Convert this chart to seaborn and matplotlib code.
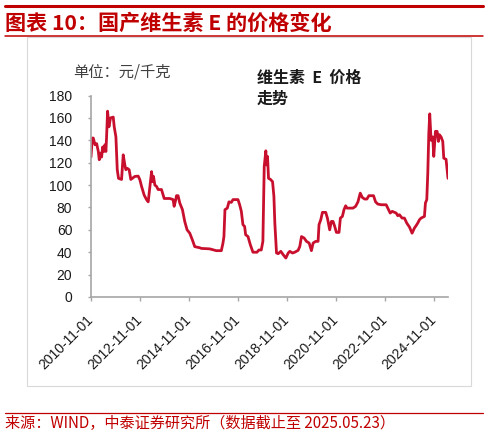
import matplotlib
matplotlib.use("Agg")
import matplotlib.pyplot as plt
import matplotlib.dates as mdates
from matplotlib.patches import Rectangle
from matplotlib.lines import Line2D
import pandas as pd
import seaborn as sns

# ---- data: domestic vitamin E price (yuan/kg) ----
dates = [
    "2010-11-01", "2010-11-20", "2010-12-05", "2010-12-30", "2011-01-24", "2011-02-18",
    "2011-03-04", "2011-03-24", "2011-04-08", "2011-04-23", "2011-05-12", "2011-05-27",
    "2011-06-11", "2011-06-21", "2011-07-06", "2011-07-26", "2011-08-19", "2011-09-28",
    "2011-10-13", "2011-11-07", "2011-11-27", "2011-12-16", "2012-01-30", "2012-02-24",
    "2012-03-19", "2012-04-03", "2012-04-23", "2012-05-22", "2012-06-16", "2012-08-15",
    "2012-10-04", "2012-10-29", "2012-11-23", "2013-01-01", "2013-02-05", "2013-03-02",
    "2013-03-27", "2013-04-21", "2013-05-06", "2013-05-20", "2013-06-09", "2013-07-04",
    "2013-07-28", "2013-09-16", "2013-10-26", "2014-01-18", "2014-03-08", "2014-03-23",
    "2014-04-17", "2014-04-27", "2014-05-21", "2014-06-15", "2014-07-25", "2014-08-28",
    "2014-10-02", "2014-11-11", "2014-12-20", "2015-01-24", "2015-04-08", "2015-05-03",
    "2015-09-03", "2015-12-11", "2016-02-24", "2016-03-19", "2016-04-03", "2016-04-18",
    "2016-05-23", "2016-06-17", "2016-07-22", "2016-08-16", "2016-10-29", "2016-11-23",
    "2016-12-18", "2017-01-11", "2017-02-05", "2017-02-20", "2017-03-27", "2017-05-01",
    "2017-06-09", "2017-08-08", "2017-09-06", "2017-10-11", "2017-11-04", "2017-11-24",
    "2017-12-18", "2017-12-28", "2018-01-12", "2018-01-27", "2018-02-26", "2018-03-28",
    "2018-04-17", "2018-05-01", "2018-05-26", "2018-06-20", "2018-07-29", "2018-09-02",
    "2018-10-12", "2018-11-16", "2018-12-10", "2019-01-19", "2019-02-22", "2019-04-13",
    "2019-05-08", "2019-06-02", "2019-07-11", "2019-08-15", "2019-09-24", "2019-10-28",
    "2019-11-22", "2019-12-31", "2020-02-04", "2020-02-18", "2020-03-15", "2020-04-09",
    "2020-05-28", "2020-06-22", "2020-07-26", "2020-08-20", "2020-09-14", "2020-10-09",
    "2020-11-03", "2020-12-12", "2021-01-01", "2021-01-31", "2021-02-24", "2021-03-21",
    "2021-04-10", "2021-07-08", "2021-08-16", "2021-09-20", "2021-10-24", "2021-11-23",
    "2021-12-28", "2022-01-31", "2022-03-02", "2022-05-10", "2022-06-09", "2022-07-13",
    "2022-09-01", "2022-11-14", "2022-12-09", "2023-01-13", "2023-02-12", "2023-03-18",
    "2023-04-12", "2023-05-06", "2023-05-31", "2023-07-09", "2023-08-13", "2023-09-17",
    "2023-10-27", "2023-12-05", "2024-01-09", "2024-02-03", "2024-02-27", "2024-03-24",
    "2024-04-17", "2024-06-06", "2024-06-21", "2024-07-11", "2024-07-26", "2024-08-10",
    "2024-08-24", "2024-09-13", "2024-10-08", "2024-10-23", "2024-11-17", "2024-12-12",
    "2024-12-31", "2025-01-15", "2025-02-09", "2025-03-06", "2025-03-21", "2025-04-24",
    "2025-05-23",
]
prices = [
    125, 142, 142, 136, 137, 130,
    122.6, 128.5, 125, 134, 130, 136,
    130, 143, 166, 152, 160, 160.7,
    152, 143, 113.7, 106, 105, 127,
    118, 113.7, 115, 113.7, 105, 107.7,
    108, 104.7, 98.8, 91, 87, 85,
    98.8, 112, 103, 107.7, 100, 98.8,
    96, 96, 88, 88, 87, 81,
    87, 90.5, 90.5, 84, 78, 67.5,
    60, 57, 51, 45, 44, 43.4,
    43, 41.4, 41.4, 48, 54, 78,
    79.4, 85, 84.5, 87, 87, 82.4,
    76.5, 64.6, 63, 55.6, 54, 46.7,
    40, 40, 42, 42, 49.7, 116.6,
    130.6, 118, 125.6, 106, 105, 103,
    90, 66, 39.3, 38.7, 40.8, 37.8,
    34.8, 39.3, 40.8, 39.3, 40, 41.7,
    45.2, 54, 52.7, 49.7, 48.2, 41.4,
    48.2, 49.7, 49.7, 64.6, 69, 75.6,
    75.6, 70.5, 60, 67.5, 67.5, 63,
    57.7, 57.7, 70.5, 72, 78, 81.5,
    79.4, 79.4, 81, 85, 92.8, 89,
    87.5, 87.5, 90.5, 90.5, 85, 83,
    82.4, 82.4, 79.4, 75, 76.5, 75.6,
    75, 72.6, 73.5, 70.5, 70.5, 66,
    62.5, 57, 61.6, 63.7, 66, 69,
    70.5, 72, 84, 87, 110.7, 146,
    163.6, 140, 143, 125.6, 148, 148,
    139, 145, 143, 139, 124, 123,
    106,
]
tick_dates = ["2010-11-01", "2012-11-01", "2014-11-01", "2016-11-01",
              "2018-11-01", "2020-11-01", "2022-11-01", "2024-11-01"]
y_ticks = [0, 20, 40, 60, 80, 100, 120, 140, 160, 180]

title_text = "图表 10：国产维生素 E 的价格变化"
unit_text = "单位：元/千克"
legend_text = "维生素  E  价格\n走势"
source_text = "来源：WIND，中泰证券研究所（数据截止至 2025.05.23）"

RED = "#C00000"
LINE_RED = "#C8102E"
GRAY = "#A6A6A6"

sns.set_theme(style="white")
plt.rcParams["font.family"] = ["Liberation Sans", "Noto Sans CJK SC", "DejaVu Sans"]
CJK = ["Noto Sans CJK SC", "Liberation Sans", "DejaVu Sans"]

df = pd.DataFrame({"date": pd.to_datetime(dates), "price": prices})

W, H = 488, 436
fig = plt.figure(figsize=(W / 100, H / 100), dpi=100)

def fx(px):
    return px / W

def fy(py):
    return 1 - py / H

# decorations
fig.add_artist(Line2D([fx(5), fx(483)], [fy(6), fy(6)], color=RED, lw=2.2))
fig.add_artist(Line2D([fx(5), fx(483)], [fy(36), fy(36)], color=RED, lw=1.1))
fig.add_artist(Line2D([fx(5), fx(483)], [fy(412.5), fy(412.5)], color=RED, lw=0.9))
fig.add_artist(Rectangle((fx(27), fy(386)), fx(471) - fx(27), fy(37) - fy(386),
                         fill=False, edgecolor="#D9D9D9", lw=0.8))
fig.text(fx(5), fy(23.5), title_text, color=RED, fontsize=15.2, fontweight="bold",
         family=CJK, ha="left", va="center")
fig.text(fx(73), fy(72), unit_text, color="#404040", fontsize=11,
         family=CJK, ha="left", va="center")
fig.text(fx(257), fy(88), legend_text, color="#1a1a1a", fontsize=11.5,
         fontweight="bold", family=CJK, ha="left", va="center", linespacing=1.4)
fig.text(fx(5), fy(423), source_text, color=RED, fontsize=10.9,
         family=CJK, ha="left", va="center")

ax = fig.add_axes([fx(91), fy(297), fx(448) - fx(91), fy(95.5) - fy(297)])
sns.lineplot(data=df, x="date", y="price", ax=ax, color=LINE_RED, lw=2.0)

ax.set_ylim(0, 180)
ax.set_yticks(y_ticks)
ax.set_xlim(pd.Timestamp(dates[0]), pd.Timestamp(dates[-1]))
ax.set_xticks(pd.to_datetime(tick_dates))
ax.xaxis.set_major_formatter(mdates.DateFormatter("%Y-%m-%d"))
ax.set_xlabel("")
ax.set_ylabel("")
ax.grid(False)
ax.set_facecolor("none")

for s in ["top", "right"]:
    ax.spines[s].set_visible(False)
for s in ["left", "bottom"]:
    ax.spines[s].set_color(GRAY)
    ax.spines[s].set_linewidth(1.2)

ax.tick_params(axis="y", which="major", left=True, length=2.5, width=1, color=GRAY,
               pad=11, labelsize=10, labelcolor="#1a1a1a")
ax.tick_params(axis="x", which="major", bottom=True, length=3, width=1, color=GRAY,
               pad=12, labelsize=10, labelcolor="#1a1a1a")
for lab in ax.get_xticklabels():
    lab.set_rotation(45)
    lab.set_ha("right")
    lab.set_va("center")
    lab.set_rotation_mode("anchor")

fig.savefig("out.png", dpi=100)
